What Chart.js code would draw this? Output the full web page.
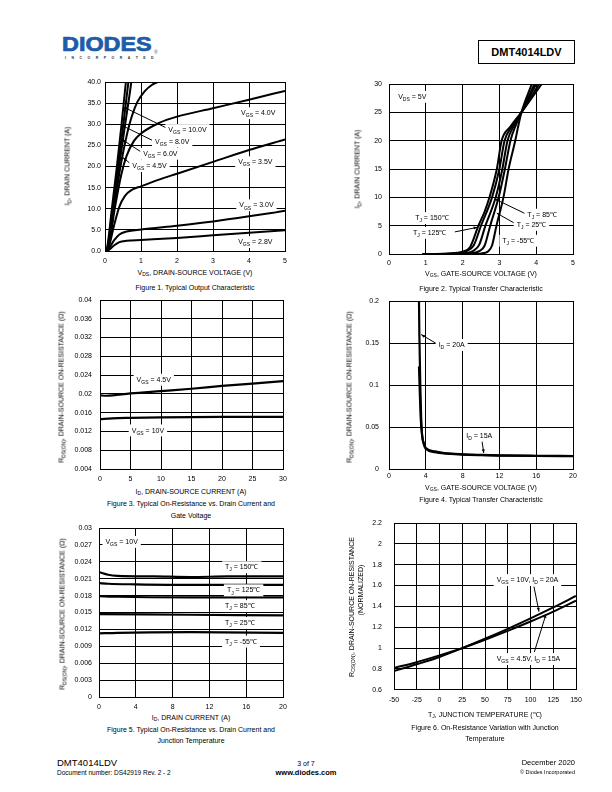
<!DOCTYPE html>
<html>
<head>
<meta charset="utf-8">
<script src="https://cdn.jsdelivr.net/npm/chart.js@4.4.0/dist/chart.umd.min.js"></script>
<style>
  body { margin: 0; background: #fff; }
  #page { position: relative; width: 612px; height: 792px; overflow: hidden; font-family: "Liberation Sans", Arial, sans-serif; color: #000; }
  #page canvas { position: absolute; }
  .t { position: absolute; white-space: nowrap; line-height: 1; font-size: 7px; }
  .t sub { font-size: 5px; vertical-align: -1.5px; line-height: 0; }
</style>
</head>
<body>
<div id="page">
  <div class="t" style="left:62px;top:35px;font-size:19.5px;font-weight:bold;color:#1d5ca8;-webkit-text-stroke:0.7px #1d5ca8;transform:scaleX(1.2);transform-origin:left;">DIODES</div>
  <div class="t" style="left:154px;top:50px;font-size:5px;color:#1d5ca8;">&reg;</div>
  <div class="t" style="left:65px;top:57px;font-size:3.5px;font-weight:bold;letter-spacing:5.5px;color:#333;">INCORPORATED</div>
  <div class="t" style="left:478px;top:40px;width:95px;height:22px;border:1px solid #000;font-size:11px;font-weight:bold;text-align:center;line-height:22px;">DMT4014LDV</div>
</div>
<script>
// ---------------- data ----------------
// Figure 1: ID (A) vs VDS (V), one curve per VGS
const fig1XTicks = [0, 1, 2, 3, 4, 5];
const fig1YTicks = [0, 5, 10, 15, 20, 25, 30, 35, 40];
const vgs10_0 = [[0,0],[0.05,0.5],[0.19,10],[0.33,20],[0.46,30],[0.58,40],[0.62,43]];
const vgs8_0  = [[0,0],[0.06,0.5],[0.21,10],[0.36,20],[0.51,30],[0.65,40],[0.69,43]];
const vgs6_0  = [[0,0],[0.07,0.5],[0.23,10],[0.39,20],[0.56,30],[0.73,40],[0.77,43]];
const vgs4_5  = [[0,0],[0.08,0.5],[0.25,10],[0.43,20],[0.62,28],[0.75,32],[0.9,35.3],[1.1,37.8],[1.3,39.3],[1.55,40.3]];
const vgs4_0  = [[0,0],[0.08,0.5],[0.27,10],[0.45,18],[0.6,22.5],[0.8,26],[1,27.8],[1.5,30.3],[2,31.8],[3,33.8],[4,35.8],[5,37.9]];
const vgs3_5  = [[0,0],[0.1,0.8],[0.25,6],[0.4,10.5],[0.55,13],[0.75,14.5],[1,15.3],[1.5,16.9],[2,18.3],[3,21.1],[4,23.9],[5,26.4]];
const vgs3_0  = [[0,0],[0.1,0.5],[0.25,2.5],[0.4,3.9],[0.6,4.6],[1,5.1],[2,6.0],[3,7.0],[4,8.2],[5,9.5]];
const vgs2_8  = [[0,0],[0.1,0.2],[0.25,1.3],[0.4,2.1],[0.6,2.4],[1,2.6],[2,3.1],[3,3.7],[4,4.3],[5,4.9]];

// Figure 2: ID (A) vs VGS (V), one curve per TJ
const fig2XTicks = [0, 1, 2, 3, 4, 5];
const fig2YTicks = [0, 5, 10, 15, 20, 25, 30];
const tj150 = [[0.9,0],[1.6,0.1],[2,0.4],[2.2,1.2],[2.43,5],[2.6,7.5],[2.73,10],[2.93,15],[3.06,20],[3.3,22.5],[3.6,25],[4.15,30]];
const tj125 = [[1.0,0],[1.8,0.1],[2.1,0.5],[2.3,1.5],[2.5,5],[2.8,10],[3.0,15],[3.14,20],[3.35,22.6],[3.6,25],[4.08,30]];
const tj85  = [[1.5,0],[2.0,0.1],[2.3,0.6],[2.45,1.6],[2.62,5],[2.9,10],[3.08,15],[3.22,20],[3.4,22.7],[3.6,25],[4.0,30]];
const tj25  = [[1.8,0],[2.2,0.1],[2.45,0.5],[2.6,1.5],[2.75,5],[2.98,10],[3.15,15],[3.3,20],[3.45,22.8],[3.6,25],[3.95,30]];
const tjm55 = [[2.1,0],[2.5,0.1],[2.7,0.5],[2.8,1.5],[2.92,5],[3.11,10],[3.25,15],[3.43,20],[3.52,22.8],[3.6,25],[3.88,30]];

// Figure 3: RDS(on) vs ID at two gate voltages
const fig3XTicks = [0, 5, 10, 15, 20, 25, 30];
const fig3YTicks = [0.004, 0.008, 0.012, 0.016, 0.02, 0.024, 0.028, 0.032, 0.036, 0.04];
const rdsVgs4_5 = [[0,0.0197],[1,0.0196],[5,0.0201],[10,0.0206],[15,0.0211],[20,0.0217],[25,0.0222],[30,0.0227]];
const rdsVgs10  = [[0,0.0146],[2,0.0148],[5,0.0149],[10,0.015],[20,0.0151],[30,0.0151]];

// Figure 4: RDS(on) vs VGS at two drain currents
const fig4XTicks = [0, 4, 8, 12, 16, 20];
const fig4YTicks = [0, 0.05, 0.1, 0.15, 0.2];
const rdsId20 = [[3.25,0.21],[3.3,0.16],[3.4,0.1],[3.5,0.06],[3.6,0.04],[3.8,0.03],[4,0.025],[5,0.021],[6,0.019],[8,0.0175],[10,0.0168],[12,0.0163],[16,0.0158],[20,0.0155]];
const rdsId15 = [[3.26,0.122],[3.35,0.09],[3.45,0.06],[3.6,0.04],[3.8,0.029],[4,0.024],[5,0.02],[6,0.0185],[8,0.0172],[10,0.0165],[12,0.016],[16,0.0155],[20,0.0153]];

// Figure 5: RDS(on) vs ID, one curve per TJ (VGS = 10V)
const fig5XTicks = [0, 4, 8, 12, 16, 20];
const fig5YTicks = [0, 0.003, 0.006, 0.009, 0.012, 0.015, 0.018, 0.021, 0.024, 0.027, 0.03];
const rTj150 = [[0,0.0222],[1,0.0217],[2,0.0215],[6,0.0214],[10,0.0213],[14,0.0214],[20,0.0214]];
const rTj125 = [[0,0.0202],[1,0.0201],[4,0.02],[10,0.0199],[20,0.0199]];
const rTj85  = [[0,0.0179],[2,0.0178],[10,0.0177],[20,0.0177]];
const rTj25  = [[0,0.0147],[10,0.0146],[20,0.0145]];
const rTjm55 = [[0,0.0113],[2,0.0114],[10,0.0115],[20,0.0114]];

// Figure 6: normalized RDS(on) vs TJ
const fig6XTicks = [-50, -25, 0, 25, 50, 75, 100, 125, 150];
const fig6YTicks = [0.6, 0.8, 1, 1.2, 1.4, 1.6, 1.8, 2, 2.2];
const normVgs10  = [[-50,0.78],[-25,0.845],[0,0.915],[25,1.0],[50,1.09],[75,1.185],[100,1.285],[125,1.39],[150,1.5]];
const normVgs4_5 = [[-50,0.81],[-25,0.865],[0,0.93],[25,1.0],[50,1.08],[75,1.165],[100,1.255],[125,1.35],[150,1.455]];

// ---------------- helpers ----------------
const FONT = '"Liberation Sans", Arial, sans-serif';
const page = document.getElementById('page');

// "V{GS} = 4V" -> parts, text in {} is a subscript
function richParts(s) {
  return s.split(/(\{[^}]*\})/).filter(p => p.length).map(p =>
    p[0] === '{' ? { t: p.slice(1, -1), sub: true } : { t: p, sub: false });
}
function richHtml(s) {
  return s.replace(/\{([^}]*)\}/g, '<sub>$1</sub>');
}

// plain html text, centred on (x, y); rot = rotated -90deg
function label(x, y, s, o) {
  o = o || {};
  const d = document.createElement('div');
  d.className = 't';
  d.innerHTML = richHtml(s);
  d.style.left = x + 'px';
  d.style.top = y + 'px';
  if (o.size) d.style.fontSize = o.size + 'px';
  if (o.bold) d.style.fontWeight = 'bold';
  let tr = 'translate(-50%,-50%)';
  if (o.align === 'left') tr = 'translate(0,-50%)';
  if (o.align === 'right') tr = 'translate(-100%,-50%)';
  if (o.rot) tr += ' rotate(-90deg)';
  d.style.transform = tr;
  page.appendChild(d);
}

// in-plot labels (with white box) and arrows, in data coordinates
function notesPlugin(items, size) {
  return {
    id: 'notes',
    afterDatasetsDraw(chart) {
      const ctx = chart.ctx, xs = chart.scales.x, ys = chart.scales.y;
      ctx.save();
      items.forEach(n => {
        if (n.arrow) {
          const [x1, y1, x2, y2] = n.arrow;
          const ax = xs.getPixelForValue(x1), ay = ys.getPixelForValue(y1);
          const bx = xs.getPixelForValue(x2), by = ys.getPixelForValue(y2);
          ctx.strokeStyle = '#000';
          ctx.lineWidth = 1;
          ctx.beginPath(); ctx.moveTo(ax, ay); ctx.lineTo(bx, by); ctx.stroke();
          const a = Math.atan2(by - ay, bx - ax);
          ctx.fillStyle = '#000';
          ctx.beginPath();
          ctx.moveTo(bx, by);
          ctx.lineTo(bx - 4 * Math.cos(a - 0.4), by - 4 * Math.sin(a - 0.4));
          ctx.lineTo(bx - 4 * Math.cos(a + 0.4), by - 4 * Math.sin(a + 0.4));
          ctx.fill();
        }
      });
      items.forEach(n => {
        const px = xs.getPixelForValue(n.x), py = ys.getPixelForValue(n.y);
        const parts = richParts(n.text);
        let w = 0;
        parts.forEach(p => {
          ctx.font = (p.sub ? size * 0.72 : size) + 'px ' + FONT;
          p.w = ctx.measureText(p.t).width;
          w += p.w;
        });
        if (n.bg !== false) {
          ctx.fillStyle = '#fff';
          ctx.fillRect(px - 3, py - size * 0.8, w + 6, size * 1.7);
        }
        ctx.fillStyle = '#000';
        ctx.textBaseline = 'alphabetic';
        ctx.textAlign = 'left';
        let cx = px;
        parts.forEach(p => {
          ctx.font = (p.sub ? size * 0.72 : size) + 'px ' + FONT;
          ctx.fillText(p.t, cx, py + size * 0.36 + (p.sub ? size * 0.3 : 0));
          cx += p.w;
        });
      });
      ctx.restore();
    }
  };
}

const trim = v => String(+v.toFixed(4));

// box = plot area [left, top, right, bottom] in page pixels
function plot(c) {
  const [L, T, R, B] = c.box;
  // top/right room is wider than the tick labels need, so the plot area lands exactly on box
  const padL = 40, padT = 22, padR = 16, padB = 16;
  const cv = document.createElement('canvas');
  cv.width = (R - L) + padL + padR;
  cv.height = (B - T) + padT + padB;
  cv.style.left = (L - padL) + 'px';
  cv.style.top = (T - padT) + 'px';
  page.appendChild(cv);

  const axis = (ticks, fmt, pad, isX) => ({
    type: 'linear',
    min: ticks[0],
    max: ticks[ticks.length - 1],
    afterBuildTicks: s => { s.ticks = ticks.map(v => ({ value: v })); },
    afterFit: s => { if (isX) s.height = padB; else s.width = padL; },
    grid: { color: '#000', lineWidth: 1, drawTicks: false },
    border: { color: '#000', width: 1 },
    ticks: {
      color: '#000', font: { family: FONT, size: 7 }, padding: pad,
      autoSkip: false, maxRotation: 0, callback: v => fmt(v)
    }
  });

  new Chart(cv, {
    type: 'line',
    data: {
      datasets: c.series.map(s => ({
        data: s.map(([x, y]) => ({ x, y })),
        borderColor: '#000',
        borderWidth: c.lw || 2,
        pointRadius: 0,
        fill: false,
        cubicInterpolationMode: 'monotone'
      }))
    },
    options: {
      responsive: false,
      animation: false,
      devicePixelRatio: 1,
      layout: { padding: { left: 0, top: padT, right: padR, bottom: 0 } },
      plugins: { legend: { display: false }, tooltip: { enabled: false } },
      scales: {
        x: axis(c.xTicks, c.xFmt || trim, c.xPad, true),
        y: axis(c.yTicks, c.yFmt || trim, c.yPad, false)
      }
    },
    plugins: [notesPlugin(c.notes || [], 7)]
  });
}

// ---------------- figure 1 ----------------
plot({
  box: [105, 82, 285, 251],
  xTicks: fig1XTicks, yTicks: fig1YTicks,
  yFmt: v => v.toFixed(1), xPad: 6, yPad: 4,
  series: [vgs10_0, vgs8_0, vgs6_0, vgs4_5, vgs4_0, vgs3_5, vgs3_0, vgs2_8],
  notes: [
    { x: 3.78, y: 32.7, text: 'V{GS} = 4.0V' },
    { x: 1.76, y: 28.7, text: 'V{GS} = 10.0V', arrow: [1.76, 28.9, 0.51, 34.1] },
    { x: 1.39, y: 26.0, text: 'V{GS} = 8.0V', arrow: [1.36, 26.0, 0.45, 29.8] },
    { x: 1.06, y: 23.1, text: 'V{GS} = 6.0V', arrow: [1.03, 23.3, 0.47, 26.4] },
    { x: 0.76, y: 20.2, text: 'V{GS} = 4.5V', arrow: [0.73, 20.5, 0.5, 22.1] },
    { x: 3.70, y: 21.1, text: 'V{GS} = 3.5V' },
    { x: 3.73, y: 10.9, text: 'V{GS} = 3.0V' },
    { x: 3.70, y: 2.2, text: 'V{GS} = 2.8V' }
  ]
});
label(67, 166, 'I{D}, DRAIN CURRENT (A)', { rot: true });
label(195, 272, 'V{DS}, DRAIN-SOURCE VOLTAGE (V)');
label(195, 287, 'Figure 1. Typical Output Characteristic');

// ---------------- figure 2 ----------------
plot({
  box: [389, 84, 573, 254],
  xTicks: fig2XTicks, yTicks: fig2YTicks,
  xPad: 5, yPad: 7,
  series: [tj150, tj125, tj85, tj25, tjm55],
  notes: [
    { x: 0.25, y: 27.8, text: 'V{DS} = 5V' },
    { x: 0.71, y: 6.4, text: 'T{J} = 150\u2103' },
    { x: 0.65, y: 3.8, text: 'T{J} = 125\u2103', arrow: [1.79, 3.9, 2.4, 4.7] },
    { x: 3.76, y: 7.0, text: 'T{J} = 85\u2103', arrow: [3.71, 7.1, 2.88, 9.7] },
    { x: 3.47, y: 5.2, text: 'T{J} = 25\u2103', arrow: [3.42, 5.4, 2.93, 7.2] },
    { x: 3.08, y: 2.4, text: 'T{J} = -55\u2103' }
  ]
});
label(357, 169, 'I{D}, DRAIN CURRENT (A)', { rot: true });
label(481, 273, 'V{GS}, GATE-SOURCE VOLTAGE (V)');
label(481, 288, 'Figure 2. Typical Transfer Characteristic');

// ---------------- figure 3 ----------------
plot({
  box: [100, 300, 283, 469],
  xTicks: fig3XTicks, yTicks: fig3YTicks,
  xPad: 6, yPad: 8, lw: 2.2,
  series: [rdsVgs4_5, rdsVgs10],
  notes: [
    { x: 6.0, y: 0.0231, text: 'V{GS} = 4.5V' },
    { x: 5.2, y: 0.0123, text: 'V{GS} = 10V' }
  ]
});
label(61, 387, 'R{DS(ON)}, DRAIN-SOURCE ON-RESISTANCE (\u03A9)', { rot: true });
label(191, 491, 'I{D}, DRAIN-SOURCE CURRENT (A)');
label(191, 503, 'Figure 3. Typical On-Resistance vs. Drain Current and');
label(191, 515, 'Gate Voltage');

// ---------------- figure 4 ----------------
plot({
  box: [389, 301, 573, 469],
  xTicks: fig4XTicks, yTicks: fig4YTicks,
  xPad: 3, yPad: 10, lw: 2.2,
  series: [rdsId20, rdsId15],
  notes: [
    { x: 5.4, y: 0.148, text: 'I{D} = 20A', arrow: [5.2, 0.149, 3.5, 0.16] },
    { x: 8.4, y: 0.040, text: 'I{D} = 15A', arrow: [10.1, 0.034, 10.3, 0.019] }
  ]
});
label(349, 387, 'R{DS(ON)}, DRAIN-SOURCE ON-RESISTANCE (\u03A9)', { rot: true });
label(481, 487, 'V{GS}, GATE-SOURCE VOLTAGE (V)');
label(481, 499, 'Figure 4. Typical Transfer Characteristic');

// ---------------- figure 5 ----------------
plot({
  box: [99, 528, 283, 697],
  xTicks: fig5XTicks, yTicks: fig5YTicks,
  xPad: 6, yPad: 7, lw: 2.2,
  series: [rTj150, rTj125, rTj85, rTj25, rTjm55],
  notes: [
    { x: 0.7, y: 0.0276, text: 'V{GS} = 10V' },
    { x: 13.7, y: 0.0231, text: 'T{J} = 150\u2103' },
    { x: 13.9, y: 0.0190, text: 'T{J} = 125\u2103' },
    { x: 13.7, y: 0.0162, text: 'T{J} = 85\u2103' },
    { x: 13.7, y: 0.0132, text: 'T{J} = 25\u2103' },
    { x: 13.7, y: 0.0099, text: 'T{J} = -55\u2103' }
  ]
});
label(62, 614, 'R{DS(ON)}, DRAIN-SOURCE ON-RESISTANCE (\u03A9)', { rot: true });
label(191, 717, 'I{D}, DRAIN CURRENT (A)');
label(191, 729, 'Figure 5. Typical On-Resistance vs. Drain Current and');
label(191, 740, 'Junction Temperature');

// ---------------- figure 6 ----------------
plot({
  box: [394, 523, 576, 690],
  xTicks: fig6XTicks, yTicks: fig6YTicks,
  xPad: 6, yPad: 12,
  series: [normVgs10, normVgs4_5],
  notes: [
    { x: 62.8, y: 1.656, text: 'V{GS} = 10V, I{D} = 20A', arrow: [103.8, 1.59, 109.3, 1.35] },
    { x: 62.8, y: 0.898, text: 'V{GS} = 4.5V, I{D} = 15A', arrow: [104.2, 0.962, 117, 1.325] }
  ]
});
label(351, 607, 'R{DS(ON)}, DRAIN-SOURCE ON-RESISTANCE', { rot: true });
label(360, 590, '(NORMALIZED)', { rot: true });
label(485, 714, 'T{J}, JUNCTION TEMPERATURE (\u2103)');
label(485, 727, 'Figure 6. On-Resistance Variation with Junction');
label(485, 738, 'Temperature');

// ---------------- footer ----------------
label(57, 763, 'DMT4014LDV', { align: 'left', size: 9.5 });
label(57, 773, 'Document number: DS42919  Rev. 2 - 2', { align: 'left', size: 6.5 });
label(306, 763, '3 of 7', { size: 7 });
label(306, 773, 'www.diodes.com', { size: 7.5, bold: true });
label(575, 763, 'December 2020', { align: 'right', size: 7.5 });
label(575, 773, '\u00A9 Diodes Incorporated', { align: 'right', size: 5.5 });
</script>
</body>
</html>
